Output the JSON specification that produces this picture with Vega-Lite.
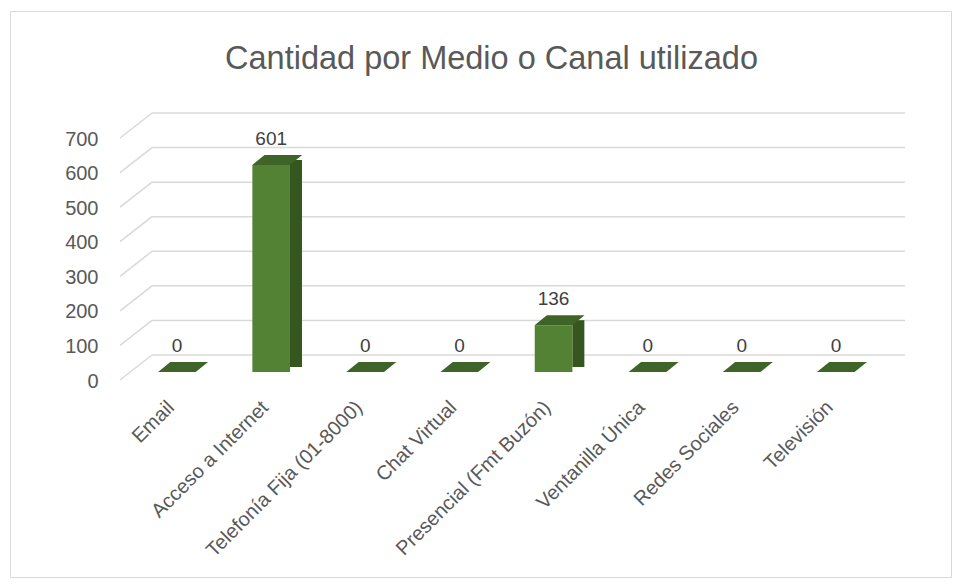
{
  "$schema": "https://vega.github.io/schema/vega-lite/v6.json",
  "width": 941,
  "height": 566,
  "autosize": "none",
  "padding": {"left": 10, "top": 11, "right": 10, "bottom": 10},
  "config": {
    "view": {"stroke": "#d9d9d9", "strokeWidth": 1},
    "font": "Liberation Sans"
  },
  "title": {
    "text": "Cantidad por Medio o Canal utilizado",
    "fontSize": 32.5,
    "fontWeight": "normal",
    "color": "#595959",
    "font": "Liberation Sans",
    "anchor": "middle",
    "frame": "group",
    "baseline": "alphabetic",
    "offset": 0,
    "dx": 11,
    "dy": 90
  },
  "datasets": {
    "canales": [
      {"canal": "Email", "cantidad": 0},
      {"canal": "Acceso a Internet", "cantidad": 601},
      {"canal": "Telefonía Fija (01-8000)", "cantidad": 0},
      {"canal": "Chat Virtual", "cantidad": 0},
      {"canal": "Presencial (Fmt Buzón)", "cantidad": 136},
      {"canal": "Ventanilla Única", "cantidad": 0},
      {"canal": "Redes Sociales", "cantidad": 0},
      {"canal": "Televisión", "cantidad": 0}
    ],
    "grid": [
      {"v": 0}, {"v": 100}, {"v": 200}, {"v": 300},
      {"v": 400}, {"v": 500}, {"v": 600}, {"v": 700}
    ]
  },
  "resolve": {"scale": {"x": "independent", "y": "independent"}},
  "layer": [
    {
      "data": {"name": "grid"},
      "layer": [
        {
          "mark": {"type": "rule", "color": "#d9d9d9", "strokeWidth": 1.5},
          "encoding": {
            "y": {
              "field": "v", "type": "quantitative",
              "scale": {"domain": [0, 700], "range": [344, 102], "nice": false, "zero": false},
              "axis": {
                "values": [0, 100, 200, 300, 400, 500, 600, 700],
                "orient": "left",
                "offset": -90,
                "labelPadding": 2,
                "tickSize": 0,
                "ticks": false,
                "domain": false,
                "grid": false,
                "labelOffset": 26,
                "labelFontSize": 20,
                "labelColor": "#595959",
                "labelFont": "Liberation Sans",
                "title": null
              }
            },
            "x": {"datum": 0, "type": "quantitative", "scale": {"domain": [0, 1], "range": [142, 895]}, "axis": null},
            "x2": {"datum": 1}
          }
        },
        {
          "mark": {"type": "rule", "color": "#d9d9d9", "strokeWidth": 1.5, "x2Offset": -32, "y2Offset": 25},
          "encoding": {
            "y": {"field": "v", "type": "quantitative"},
            "y2": {"field": "v"},
            "x": {"datum": 0, "type": "quantitative"},
            "x2": {"datum": 0}
          }
        }
      ]
    },
    {
      "data": {"name": "canales"},
      "encoding": {
        "x": {
          "field": "canal", "type": "nominal", "sort": null,
          "scale": {"range": [142, 895], "paddingInner": 0.6, "paddingOuter": 0.3},
          "axis": {
            "orient": "bottom",
            "offset": -177,
            "labelPadding": 4,
            "labelOffset": -28,
            "labelAngle": -45,
            "labelAlign": "right",
            "labelBaseline": "middle",
            "tickSize": 0,
            "ticks": false,
            "domain": false,
            "grid": false,
            "labelFontSize": 20,
            "labelColor": "#595959",
            "labelFont": "Liberation Sans",
            "labelLimit": 400,
            "title": null
          }
        },
        "y": {
          "field": "cantidad", "type": "quantitative",
          "scale": {"domain": [0, 700], "range": [361, 120], "nice": false},
          "axis": null
        }
      },
      "layer": [
        {
          "mark": {"type": "bar", "width": 12, "xOffset": 2.8, "yOffset": -5, "y2Offset": -5, "color": "#36561f"}
        },
        {
          "mark": {"type": "bar", "xOffset": -22, "color": "#548235"}
        },
        {
          "mark": {
            "type": "point",
            "shape": "M-1,0.2L0.506,0.2L1,-0.2L-0.506,-0.2Z",
            "size": 2500,
            "filled": true,
            "opacity": 1,
            "strokeWidth": 0,
            "xOffset": -16,
            "yOffset": -5,
            "color": "#3e6428"
          }
        },
        {
          "mark": {
            "type": "text",
            "baseline": "bottom",
            "align": "center",
            "xOffset": -22,
            "yOffset": -16,
            "fontSize": 19,
            "color": "#404040",
            "font": "Liberation Sans"
          },
          "encoding": {"text": {"field": "cantidad", "type": "quantitative"}}
        }
      ]
    }
  ]
}
